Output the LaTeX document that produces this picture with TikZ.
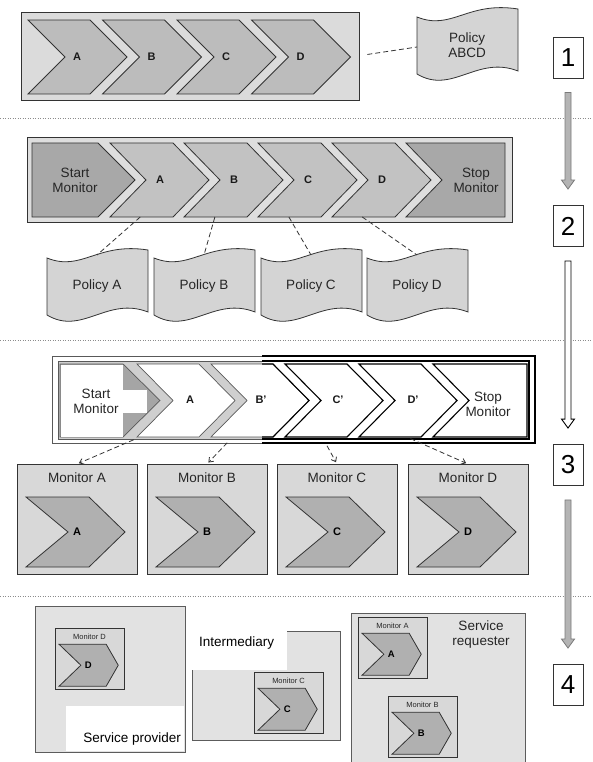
\documentclass[tikz,border=0pt]{standalone}
\usepackage{fontspec}
\setmainfont{Liberation Sans}
\usetikzlibrary{arrows.meta,calc}

\definecolor{linedark}{HTML}{333333}
\definecolor{boxone}{HTML}{DBDBDB}
\definecolor{chevone}{HTML}{BCBCBC}
\definecolor{boxtwo}{HTML}{DEDEDE}
\definecolor{chevtwo}{HTML}{C2C2C2}
\definecolor{endtwo}{HTML}{A8A8A8}
\definecolor{polfill}{HTML}{D4D4D4}
\definecolor{bandgray}{HTML}{CFCFCF}
\definecolor{tipgray}{HTML}{A5A5A5}
\definecolor{monfill}{HTML}{D8D8D8}
\definecolor{monchevfill}{HTML}{B0B0B0}
\definecolor{hostfill}{HTML}{E2E2E2}
\definecolor{arrowfill}{HTML}{B4B4B4}
\definecolor{arrowline}{HTML}{7A7A7A}
\definecolor{sepgray}{HTML}{8C8C8C}

% chevron: style, name, left x, top y, body width, height, point depth
\newcommand\chevron[7]{%
  \draw[#1] (#3,#4) coordinate (#2-nw) -- ++(#5,0) coordinate (#2-ne)
    -- ++(#7,#6/2) coordinate (#2-tip) -- ++(-#7,#6/2) coordinate (#2-se)
    -- ++(-#5,0) coordinate (#2-sw) -- ++(#7,-#6/2) coordinate (#2-notch) -- cycle;}
% chevron with a notch depth of its own: style, name, x, y, width, height, point, notch
\newcommand\chevronn[8]{%
  \draw[#1] (#3,#4) coordinate (#2-nw) -- ++(#5,0) coordinate (#2-ne)
    -- ++(#7,#6/2) coordinate (#2-tip) -- ++(-#7,#6/2) coordinate (#2-se)
    -- ++(-#5,0) coordinate (#2-sw) -- ++(#8,-#6/2) coordinate (#2-notch) -- cycle;}
% flat-backed arrow block
\newcommand\pentagon[7]{%
  \draw[#1] (#3,#4) coordinate (#2-nw) -- ++(#5,0) coordinate (#2-ne)
    -- ++(#7,#6/2) coordinate (#2-tip) -- ++(-#7,#6/2) coordinate (#2-se)
    -- ++(-#5,0) coordinate (#2-sw) -- cycle;}
% block with a notch on the left, flat on the right (full width given)
\newcommand\notchblock[7]{%
  \draw[#1] (#3,#4) coordinate (#2-nw) -- ++(#5,0) coordinate (#2-ne)
    -- ++(0,#6) coordinate (#2-se) -- ++(-#5,0) coordinate (#2-sw)
    -- ++(#7,-#6/2) coordinate (#2-notch) -- cycle;}
% waving document: name, x, y, text
\newcommand\policy[4]{%
  \begin{scope}[shift={(#2,#3)}]
    \draw[policyshape] (0,0) .. controls (35,14) and (50,-16) .. (101,-8)
      -- (101,54) .. controls (60,38) and (35,78) .. (0,57) -- cycle;
    \coordinate (#1-top) at (50,-3);
    \coordinate (#1-w) at (0,30);
    \node[txt] (#1) at (50,28) {#4};
  \end{scope}}
% inner layout of a monitor box (in 120 x 110 units)
\newcommand\setmongeom[8]{%
  \def\mcx{#1}\def\mcy{#2}\def\mcw{#3}\def\mch{#4}\def\mct{#5}\def\mcn{#6}\def\mly{#7}\def\mlx{#8}}
% monitor box: name, x, y, label, letter, xscale, yscale, label size, letter size
\newcommand\monitor[9]{%
  \begin{scope}[shift={(#2,#3)}, xscale=#6, yscale=#7]
    \draw[monbox] (0,0) rectangle (120,110);
    \coordinate (#1-n) at (60,0);
    \node[inner sep=0pt, text=black!85, font=\fontsize{#8}{#8}\selectfont] (#1-lbl) at (60,\mly) {#4};
    \chevronn{monchev}{#1-ch}{\mcx}{\mcy}{\mcw}{\mch}{\mct}{\mcn}
    \node[inner sep=0pt, font=\bfseries\fontsize{#9}{#9}\selectfont] (#1-let) at (\mlx,\mcy+\mch/2) {#5};
  \end{scope}}
% grey block arrow between two step numbers
\newcommand\blockarrow[3]{%
  \path[#1] let \p1=(#2.south), \p2=(#3.north) in
    (\x1-3pt,\y1-14pt) -- (\x1-3pt,\y2+25pt) -- (\x1-6.5pt,\y2+25pt) -- (\x1,\y2+16pt)
    -- (\x1+6.5pt,\y2+25pt) -- (\x1+3pt,\y2+25pt) -- (\x1+3pt,\y1-14pt) -- cycle;}

\tikzset{
  txt/.style={font=\fontsize{13.5}{15}\selectfont, align=center, inner sep=0pt, text=black!85},
  lettxt/.style={font=\bfseries\fontsize{11}{12}\selectfont, inner sep=0pt, text=black!90},
  chevone/.style={fill=chevone, draw=linedark, line width=0.8pt},
  chevtwo/.style={fill=chevtwo, draw=linedark, line width=0.8pt},
  endtwo/.style={fill=endtwo, draw=linedark, line width=0.8pt},
  policyshape/.style={fill=polfill, draw=linedark, line width=0.8pt},
  monbox/.style={fill=monfill, draw=linedark, line width=0.8pt},
  monchev/.style={fill=monchevfill, draw=linedark, line width=0.8pt},
  hostbox/.style={draw=linedark!80, line width=0.8pt},
  dashline/.style={draw=linedark, line width=0.8pt, dash pattern=on 5pt off 3pt},
  dasharrow/.style={dashline, -{Straight Barb[length=4pt,width=6pt]}},
  sepline/.style={draw=sepgray, line width=0.8pt, dash pattern=on 1pt off 1.5pt},
  numbox/.style={draw=linedark, line width=0.9pt, fill=white, minimum width=30pt,
    minimum height=41pt, inner sep=0pt, font=\fontsize{26}{26}\selectfont},
  tipthree/.style={fill=tipgray, draw=gray!70!black, line width=0.7pt},
  chevthree/.style={fill=white, draw=gray!70!black, line width=0.7pt},
  chevthreek/.style={fill=white, draw=black, line width=1.1pt},
}

\begin{document}
\begin{tikzpicture}[x=1pt, y=-1pt, line join=miter]
\useasboundingbox (0,0) rectangle (592,762);
\fill[white] (0,0) rectangle (592,762);

% separators between the four steps
\draw[sepline] (0,118) -- (592,118);
\draw[sepline] (0,340) -- (592,340);
\draw[sepline] (0,596) -- (592,596);

% ---------- step 1: process with one policy
\draw[fill=boxone, draw=linedark, line width=0.8pt] (21,12) rectangle (359,100);
\chevron{chevone}{A1}{28}{20}{62}{74}{37}
\chevron{chevone}{B1}{102.5}{20}{62}{74}{37}
\chevron{chevone}{C1}{177}{20}{62}{74}{37}
\chevron{chevone}{D1}{251.5}{20}{62}{74}{37}
\node[lettxt] (A1-l) at (77,57) {A};
\node[lettxt] (B1-l) at (151.5,57) {B};
\node[lettxt] (C1-l) at (226,57) {C};
\node[lettxt] (D1-l) at (300.5,57) {D};
\policy{polABCD}{417}{17}{Policy\\ABCD}
\draw[dashline, shorten <=17pt] (D1-tip) -- (polABCD-w);

% ---------- step 2: monitored process with one policy per activity
\draw[fill=boxtwo, draw=linedark, line width=0.8pt] (27,137) rectangle (512,222);
\pentagon{endtwo}{St2}{32}{143}{66}{74}{37}
\chevron{chevtwo}{A2}{110}{143}{63}{74}{36}
\chevron{chevtwo}{B2}{184}{143}{63}{74}{36}
\chevron{chevtwo}{C2}{258}{143}{63}{74}{36}
\chevron{chevtwo}{D2}{332}{143}{63}{74}{36}
\notchblock{endtwo}{Sp2}{406}{143}{99}{74}{36}
\node[txt] (St2-l) at (75,180) {Start\\Monitor};
\node[lettxt] (A2-l) at (160,180) {A};
\node[lettxt] (B2-l) at (234,180) {B};
\node[lettxt] (C2-l) at (308,180) {C};
\node[lettxt] (D2-l) at (382,180) {D};
\node[txt] (Sp2-l) at (476,180) {Stop\\Monitor};
\policy{polA}{47}{258}{Policy A}
\policy{polB}{154}{258}{Policy B}
\policy{polC}{261}{258}{Policy C}
\policy{polD}{367}{258}{Policy D}
\draw[dashline] ($(A2-sw)!0.48!(A2-se)$) -- (polA-top);
\draw[dashline] ($(B2-sw)!0.49!(B2-se)$) -- (polB-top);
\draw[dashline] ($(C2-sw)!0.49!(C2-se)$) -- (polC-top);
\draw[dashline] ($(D2-sw)!0.48!(D2-se)$) -- (polD-top);

% ---------- step 3: monitors split off the process
\fill[white] (52,356) rectangle (535,443);
\draw[draw=gray!70!black, line width=0.8pt] (52,356) rectangle (535,443);
\draw[draw=gray!70!black, line width=0.8pt] (58,361) rectangle (529,439);
\fill[bandgray] (58.5,361.5) rectangle (262,438.5);
\pentagon{tipthree}{St3}{60}{364}{63}{73}{37}
\fill[white] (60.5,364.5) rectangle (123,436.5);
\fill[white] (123,390) rectangle (147,413);
\chevron{chevthree}{A3}{137}{364}{62}{73}{36}
\chevron{chevthree}{B3}{211}{364}{62}{73}{36}
\chevron{chevthreek}{C3}{285}{364}{62}{73}{36}
\chevron{chevthreek}{D3}{359}{364}{62}{73}{36}
\notchblock{chevthreek}{Sp3}{433}{364}{94}{73}{36}
\begin{scope}
  \clip (262,340) rectangle (560,460);
  \draw[black, line width=1.1pt] (52,356) rectangle (535,443);
  \draw[black, line width=1.1pt] (58,361) rectangle (529,439);
  \draw[black, line width=1.1pt] (B3-nw) -- (B3-ne) -- (B3-tip) -- (B3-se) -- (B3-sw) -- (B3-notch) -- cycle;
\end{scope}
\node[txt] (St3-l) at (96,401) {Start\\Monitor};
\node[lettxt] (A3-l) at (190,400) {A};
\node[lettxt] (B3-l) at (261,400) {B'};
\node[lettxt] (C3-l) at (338,400) {C'};
\node[lettxt] (D3-l) at (413,400) {D'};
\node[txt] (Sp3-l) at (488,404) {Stop\\Monitor};

\setmongeom{9}{33}{63}{70}{36}{42}{14}{60}
\monitor{monA}{17}{464}{Monitor A}{A}{1}{1}{13.5}{11}
\monitor{monB}{147}{464}{Monitor B}{B}{1}{1}{13.5}{11}
\monitor{monC}{277}{464}{Monitor C}{C}{1}{1}{13.5}{11}
\monitor{monD}{408}{464}{Monitor D}{D}{1}{1}{13.5}{11}
\draw[dasharrow, shorten <=7pt, shorten >=2pt] ($(A3-sw)!0.05!(A3-se)$) -- (monA-n);
\draw[dasharrow, shorten <=8pt, shorten >=2pt] ($(B3-sw)!0.35!(B3-se)$) -- (monB-n);
\draw[dasharrow, shorten <=10pt, shorten >=2pt] ($(C3-sw)!0.6!(C3-se)$) -- (monC-n);
\draw[dasharrow, shorten <=4pt, shorten >=2pt] ($(D3-sw)!0.77!(D3-se)$) -- (monD-n);

% ---------- step 4: monitors placed on the participants
\setmongeom{7}{29}{82}{75}{21}{38}{16}{58}
\draw[hostbox, fill=hostfill] (35,606) rectangle (185,752);
\fill[white] (66,706) rectangle (184.4,751.4);
\node[txt, text=black, anchor=east] (prov) at (181,739) {Service provider};
\monitor{monD4}{55}{628}{Monitor D}{D}{0.575}{0.56}{7.5}{9.5}

\draw[hostbox, fill=hostfill] (192,631) rectangle (340,740);
\fill[white] (192.4,631.4) rectangle (287,670);
\node[txt, text=black, anchor=west] (inter) at (199,643) {Intermediary};
\monitor{monC4}{254}{672}{Monitor C}{C}{0.575}{0.56}{7.5}{9.5}

\fill[hostfill] (351,613) rectangle (525,762);
\draw[hostbox] (351,762) -- (351,613) -- (525,613) -- (525,762);
\node[txt] (req) at (481,635) {Service\\requester};
\monitor{monA4}{358}{617}{Monitor A}{A}{0.575}{0.56}{7.5}{9.5}
\monitor{monB4}{388}{696}{Monitor B}{B}{0.575}{0.56}{7.5}{9.5}

% ---------- step numbers and the arrows between them
\node[numbox] (n1) at (568,57.5) {1};
\node[numbox] (n2) at (568,226) {2};
\node[numbox] (n3) at (568,465) {3};
\node[numbox] (n4) at (568,685) {4};
\blockarrow{fill=arrowfill, draw=arrowline, line width=0.8pt}{n1}{n2}
\blockarrow{fill=white, draw=black, line width=0.9pt}{n2}{n3}
\blockarrow{fill=arrowfill, draw=arrowline, line width=0.8pt}{n3}{n4}
\end{tikzpicture}
\end{document}
